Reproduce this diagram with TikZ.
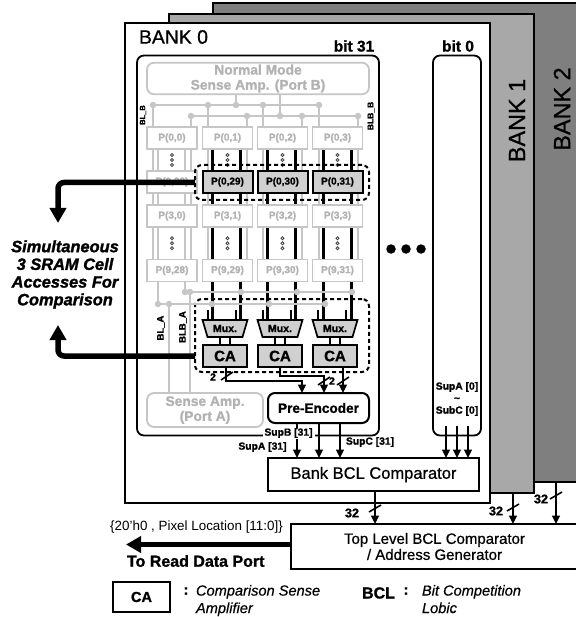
\documentclass[tikz,border=0pt]{standalone}
\usepackage{fontspec}
\setmainfont{Liberation Sans}[BoldFeatures={FakeBold=1.2},BoldItalicFeatures={FakeBold=1.6},ItalicFeatures={FakeBold=0.5}]
\newfontfamily\midfont{Liberation Sans}[FakeBold=0.7]
\usetikzlibrary{shapes.geometric,arrows.meta,positioning,backgrounds}

\definecolor{bankonegray}{HTML}{A8A8A8}
\definecolor{banktwogray}{HTML}{7F7F7F}
\definecolor{linegray}{HTML}{C6C6C6}
\definecolor{textgray}{HTML}{B2B2B2}
\definecolor{cellgray}{HTML}{D0D0D0}

\begin{document}
\begin{tikzpicture}[
		x=1pt, y=-1pt,
		every node/.style={inner sep=0pt, outer sep=0pt},
		bank/.style={rectangle, draw, line width=2pt},
		bitbox/.style={rectangle, draw, line width=1.8pt, rounded corners=7pt},
		ampbox/.style={rectangle, draw=linegray, line width=1.8pt, rounded corners=7pt, text=textgray, align=center, font=\fontsize{13.8}{15}\selectfont\bfseries},
		cell/.style={rectangle, draw=linegray, fill=white, line width=1.8pt, minimum width=50pt, minimum height=22pt, text=textgray, font=\fontsize{10}{12}\selectfont\bfseries},
		selcell/.style={cell, draw=black, fill=cellgray, line width=2pt, text=black},
		ca/.style={rectangle, draw, fill=cellgray, line width=2pt, minimum width=44pt, minimum height=22pt, font=\fontsize{15}{17}\selectfont\bfseries},
		mux/.style={trapezium, trapezium left angle=65, trapezium right angle=65, shape border rotate=180, trapezium stretches=true, draw, fill=cellgray, line width=1.7pt, minimum width=45pt, minimum height=17pt, font=\fontsize{10.5}{12}\selectfont\bfseries},
		selbox/.style={rectangle, draw, dash pattern=on 4pt off 3pt, line width=2pt, rounded corners=7pt},
		logic/.style={rectangle, draw, fill=white, line width=2pt, align=center},
		busdot/.style={circle, fill=linegray, minimum size=6.5pt},
		greyline/.style={draw=linegray, line width=2.4pt},
		blackline/.style={draw=black, line width=3pt},
		wire/.style={draw=black, line width=1.5pt},
		arrow/.style={-{Triangle[length=8.5pt,width=8pt]}, line width=1.6pt},
		bigarrow/.style={-{Triangle[length=15pt,width=16pt]}, line width=5.5pt, rounded corners=6pt},
		slash/.style={line width=1.6pt},
		tag/.style={font=\fontsize{10.3}{12}\selectfont\bfseries},
		bustag/.style={font=\fontsize{12.6}{14}\selectfont\bfseries},
		bitname/.style={rotate=90, font=\fontsize{9.5}{11}\selectfont\bfseries},
		cellover/.pic={\draw[line width=0.9pt, draw=black!70] (0,-5) circle (1.5) (0,0) circle (1.5) (0,5) circle (1.5);}
		]
		\useasboundingbox (0,0) rectangle (575,617);

		% Banks, back to front
		\begin{pgfonlayer}{background}
			\node[bank, fill=banktwogray, minimum width=365pt, minimum height=479pt] (banktwo) at (395.5,242.5) {};
			\node[bank, fill=bankonegray, minimum width=365pt, minimum height=479pt] (bankone) at (351.5,253.5) {};
			\node[bank, fill=white, minimum width=365pt, minimum height=479pt] (bankzero) at (307.5,263) {};
			\node[bitbox, fill=white, minimum width=242pt, minimum height=380pt] (bitlast) at (258,245.5) {};
			\node[bitbox, fill=white, minimum width=48pt, minimum height=380pt] (bitzero) at (457,245.5) {};
		\end{pgfonlayer}

		% Bank titles
		\node[anchor=west, font=\fontsize{19.4}{21}\selectfont\midfont] (bankzerotitle) at (139,37) {BANK 0};
		\node[rotate=90, font=\fontsize{23.4}{25}\selectfont\midfont] (bankonetitle) at (517,120.5) {BANK 1};
		\node[rotate=90, font=\fontsize{23.4}{25}\selectfont\midfont] (banktwotitle) at (562,109) {BANK 2};
		\node[font=\fontsize{15.5}{17}\selectfont\bfseries] (bitlasttitle) at (354,46) {bit 31};
		\node[font=\fontsize{15.5}{17}\selectfont\bfseries] (bitzerotitle) at (458,46) {bit 0};

		% Sense amplifiers
		\node[ampbox, minimum width=222pt, minimum height=31.5pt] (normalamp) at (258,78.5) {Normal Mode\\Sense Amp. (Port B)};
		\node[ampbox, minimum width=116pt, minimum height=34pt] (senseamp) at (205,410) {Sense Amp.\\(Port A)};

		% Row 0
		\node[cell] (pzz) at (172,138) {P(0,0)};
		\node[cell, right=5.5pt of pzz] (pzo) {P(0,1)};
		\node[cell, right=5pt of pzo] (pzt) {P(0,2)};
		\node[cell, right=5pt of pzt] (pzh) {P(0,3)};

		% Selected row
		\node[cell, below=22pt of pzz] (pazz) {P(0,28)};
		\node[selcell, below=22pt of pzo] (pazo) {P(0,29)};
		\node[selcell, below=22pt of pzt] (pazt) {P(0,30)};
		\node[selcell, below=22pt of pzh] (pazh) {P(0,31)};

		% Row 3
		\node[cell, below=12pt of pazz] (pczz) {P(3,0)};
		\node[cell, below=12pt of pazo] (pczo) {P(3,1)};
		\node[cell, below=12pt of pazt] (pczt) {P(3,2)};
		\node[cell, below=12pt of pazh] (pczh) {P(3,3)};

		% Row 9
		\node[cell, below=32.5pt of pczz] (pdzz) {P(9,28)};
		\node[cell, below=32.5pt of pczo] (pdzo) {P(9,29)};
		\node[cell, below=32.5pt of pczt] (pdzt) {P(9,30)};
		\node[cell, below=32.5pt of pczh] (pdzh) {P(9,31)};

		% Small dots between the rows
		\path (pzz) -- pic {cellover} (pazz);
		\path (pzo) -- pic {cellover} (pazo);
		\path (pzt) -- pic {cellover} (pazt);
		\path (pzh) -- pic {cellover} (pazh);
		\path (pczz) -- pic {cellover} (pdzz);
		\path (pczo) -- pic {cellover} (pdzo);
		\path (pczt) -- pic {cellover} (pdzt);
		\path (pczh) -- pic {cellover} (pdzh);

		% Comparison amplifiers and muxes
		\node[ca] (caone) at (225,356) {CA};
		\node[ca, right=11pt of caone] (catwo) {CA};
		\node[ca, right=11pt of catwo] (cathree) {CA};
		\node[mux, above=8pt of caone] (muxone) {Mux.};
		\node[mux, above=8pt of catwo] (muxtwo) {Mux.};
		\node[mux, above=8pt of cathree] (muxthree) {Mux.};

		% Selection boxes
		\node[selbox, minimum width=174pt, minimum height=35pt] (selcells) at (282,182.5) {};
		\node[selbox, minimum width=174pt, minimum height=73pt] (selamps) at (282,335.5) {};

		% Logic blocks
		\node[logic, rounded corners=7pt, minimum width=101pt, minimum height=30pt, font=\fontsize{13.6}{15}\selectfont\bfseries] (preenc) at (318.5,408) {Pre-Encoder};
		\node[logic, minimum width=211pt, minimum height=33pt, font=\fontsize{16.5}{18}\selectfont\midfont] (bankbcl) at (373.5,474.5) {Bank BCL Comparator};
		\node[logic, minimum width=287pt, minimum height=45pt, font=\fontsize{15}{16}\selectfont\midfont] (toplevel) at (434.5,546.5) {Top Level BCL Comparator\\/ Address Generator};

		% Bus dots at the top
		\node[busdot] (bla) at (153,105) {};
		\node[busdot] (blb) at (208,105) {};
		\node[busdot] (blc) at (236,105) {};
		\node[busdot] (bld) at (263,105) {};
		\node[busdot] (ble) at (319,105) {};
		\node[busdot] (bba) at (191,116) {};
		\node[busdot] (bbb) at (247,116) {};
		\node[busdot] (bbc) at (280,116) {};
		\node[busdot] (bbd) at (302,116) {};
		\node[busdot] (bbe) at (358,116) {};

		% Bus dots at the bottom
		\node[busdot] (lba) at (185,292) {};
		\node[busdot] (lbb) at (190,292) {};
		\node[busdot] (lbc) at (241,292) {};
		\node[busdot] (lbd) at (297,292) {};
		\node[busdot] (lbe) at (352,292) {};
		\node[busdot] (ala) at (158,304) {};
		\node[busdot] (alb) at (169,304) {};
		\node[busdot] (alc) at (212,304) {};
		\node[busdot] (ald) at (269,304) {};
		\node[busdot] (ale) at (325,304) {};

		% Grey bit lines
		\begin{pgfonlayer}{background}
			\draw[greyline] (bla.center) -- (bla.center |- pdzz.north);
			\draw[greyline] (bba.center) -- (bba.center |- pdzz.north);
			\draw[greyline] (bbb.center) -- (bbb.center |- pdzo.north);
			\draw[greyline] (blb.center) -- (blb.center |- pdzo.north);
			\draw[greyline] (bld.center) -- (bld.center |- pdzt.north);
			\draw[greyline] (bbd.center) -- (bbd.center |- pdzt.north);
			\draw[greyline] (ble.center) -- (ble.center |- pdzh.north);
			\draw[greyline] (bbe.center) -- (bbe.center |- pdzh.north);
			\draw[greyline] (ala.center |- pzz.south) -- (ala.center);
			\draw[greyline] (lba.center |- pzz.south) -- (lba.center);
			\draw[greyline] (blc.center) -- (blc.center |- normalamp.south);
			\draw[greyline] (bbc.center) -- (bbc.center |- normalamp.south);
			\draw[greyline] (alb.center) -- (alb.center |- senseamp.north);
			\draw[greyline] (lbb.center) -- (lbb.center |- senseamp.north);

			% Black bit lines
			\draw[blackline] ([xshift=-15pt]pzo.south) -- ([xshift=-15pt]pzo.south |- muxone.north);
			\draw[blackline] ([xshift=13pt]pzo.south) -- ([xshift=13pt]pzo.south |- muxone.north);
			\draw[blackline] ([xshift=-15pt]pzt.south) -- ([xshift=-15pt]pzt.south |- muxtwo.north);
			\draw[blackline] ([xshift=13pt]pzt.south) -- ([xshift=13pt]pzt.south |- muxtwo.north);
			\draw[blackline] ([xshift=-14.5pt]pzh.south) -- ([xshift=-14.5pt]pzh.south |- muxthree.north);
			\draw[blackline] ([xshift=13.5pt]pzh.south) -- ([xshift=13.5pt]pzh.south |- muxthree.north);
		\end{pgfonlayer}

		% Grey buses
		\draw[greyline] (bla) -- (ble);
		\draw[greyline] (bba) -- (bbe);
		\draw[greyline] (lba) -- (lbe);
		\draw[greyline] (ala) -- (ale);

		% Mux inputs and outputs
		\draw[wire] ([xshift=-17pt]muxone.north) -- ++(0,-10);
		\draw[wire] ([xshift=11pt]muxone.north) -- ++(0,-10);
		\draw[wire] ([xshift=-17pt]muxtwo.north) -- ++(0,-10);
		\draw[wire] ([xshift=11pt]muxtwo.north) -- ++(0,-10);
		\draw[wire] ([xshift=-17pt]muxthree.north) -- ++(0,-10);
		\draw[wire] ([xshift=11pt]muxthree.north) -- ++(0,-10);
		\draw[wire] ([xshift=-5pt]muxone.south) -- ([xshift=-5pt]muxone.south |- caone.north);
		\draw[wire] ([xshift=5pt]muxone.south) -- ([xshift=5pt]muxone.south |- caone.north);
		\draw[wire] ([xshift=-5pt]muxtwo.south) -- ([xshift=-5pt]muxtwo.south |- catwo.north);
		\draw[wire] ([xshift=5pt]muxtwo.south) -- ([xshift=5pt]muxtwo.south |- catwo.north);
		\draw[wire] ([xshift=-5pt]muxthree.south) -- ([xshift=-5pt]muxthree.south |- cathree.north);
		\draw[wire] ([xshift=5pt]muxthree.south) -- ([xshift=5pt]muxthree.south |- cathree.north);

		% Arrows from CA to the encoder
		\draw[arrow] ([xshift=1pt]caone.south) -- ++(0,14) -| ([xshift=-16.5pt]preenc.north);
		\draw[arrow] (catwo.south) -- ++(0,9) -| ([xshift=5.5pt]preenc.north);
		\draw[arrow] ([xshift=8pt]cathree.south) -- ([xshift=8pt]cathree.south |- preenc.north);
		\draw[slash] (221,380) -- (233,372);
		\draw[slash] (318,385) -- (330,377);
		\draw[slash] (337,385) -- (349,377);
		\node[tag] (twoone) at (213,377) {2};
		\node[tag] (twotwo) at (332,381) {2};

		% Arrows from the encoder to the comparator
		\draw[arrow] ([xshift=-21.5pt]preenc.south) -- ([xshift=-21.5pt]preenc.south |- bankbcl.north);
		\draw[arrow] ([xshift=0.5pt]preenc.south) -- ([xshift=0.5pt]preenc.south |- bankbcl.north);
		\draw[arrow] ([xshift=21.5pt]preenc.south) -- ([xshift=21.5pt]preenc.south |- bankbcl.north);
		\node[tag, fill=white, minimum height=11pt, minimum width=52pt] (supb) at (288.5,433) {SupB [31]};
		\node[tag] (supa) at (262.5,447) {SupA [31]};
		\node[tag, anchor=west] (supc) at (346,442) {SupC [31]};

		% Arrows from bit 0 to the comparator
		\node[tag, align=center] (supzero) at (457,399) {SupA [0]\\\textasciitilde\\SubC [0]};
		\draw[arrow] ([xshift=-11pt,yshift=10pt]bitzero.south) -- ([xshift=-11pt]bitzero.south |- bankbcl.north);
		\draw[arrow] ([yshift=10pt]bitzero.south) -- (bitzero.south |- bankbcl.north);
		\draw[arrow] ([xshift=11pt,yshift=10pt]bitzero.south) -- ([xshift=11pt]bitzero.south |- bankbcl.north);

		% Arrows to the top level
		\draw[arrow] ([xshift=1.5pt]bankbcl.south) -- ([xshift=1.5pt]bankbcl.south |- toplevel.north);
		\draw[arrow] ([xshift=161.5pt]bankone.south) -- ([xshift=161.5pt]bankone.south |- toplevel.north);
		\draw[arrow] ([xshift=160.5pt]banktwo.south) -- ([xshift=160.5pt]banktwo.south |- toplevel.north);
		\draw[slash] (369,512) -- (381,505);
		\draw[slash] (507,511) -- (519,504);
		\draw[slash] (550,499) -- (562,492);
		\node[bustag] (busone) at (352,513) {32};
		\node[bustag] (bustwo) at (496,511) {32};
		\node[bustag] (busthree) at (541,499) {32};

		% Bit line names
		\node[bitname, font=\fontsize{7.5}{9}\selectfont\bfseries] (blbname) at (143,115) {BL\_B};
		\node[bitname, font=\fontsize{8.5}{10}\selectfont\bfseries] (blbbname) at (371,116) {BLB\_B};
		\node[bitname] (blaname) at (161,328) {BL\_A};
		\node[bitname] (blbaname) at (183,327) {BLB\_A};

		% Row of large dots
		\node[circle, fill=black, minimum size=9.5pt] (dotone) at (391,249) {};
		\node[circle, fill=black, minimum size=9.5pt, right=5.5pt of dotone] (dottwo) {};
		\node[circle, fill=black, minimum size=9.5pt, right=5.5pt of dottwo] (dotthree) {};

		% Thick arrows
		\coordinate (tipcells) at (58,223);
		\coordinate (tipamps) at (58,325);
		\coordinate (tipread) at (126,544.5);
		\draw[bigarrow] (selcells.west) -| (tipcells);
		\draw[bigarrow] (selamps.west |- caone.west) -| (tipamps);
		\draw[bigarrow, rounded corners=0pt] (toplevel.west |- tipread) -- (tipread);

		% Texts on the left
		\node[align=center, font=\fontsize{16.4}{17.7}\selectfont\bfseries\itshape] (accesstext) at (65,274.5) {Simultaneous\\3 SRAM Cell\\Accesses For\\Comparison};
		\node[font=\fontsize{13.4}{15}\selectfont] (locationtext) at (196.5,527) {\{20'h0 , Pixel Location [11:0]\}};
		\node[anchor=west, font=\fontsize{16}{18}\selectfont\bfseries] (readtext) at (127,561) {To Read Data Port};

		% Legend
		\node[rectangle, draw, line width=2pt, minimum width=57pt, minimum height=30pt, font=\fontsize{14.5}{16}\selectfont\bfseries] (legendca) at (141.5,597) {CA};
		\node[font=\fontsize{14.5}{16}\selectfont\bfseries] (legendcolon) at (186,591) {:};
		\node[anchor=north west, align=left, font=\fontsize{14.6}{17.5}\selectfont\itshape] (legendcatext) at (196,585) {Comparison Sense\\Amplifier};
		\node[font=\fontsize{16}{18}\selectfont\bfseries] (legendbcl) at (378.5,593) {BCL};
		\node[font=\fontsize{14.5}{16}\selectfont\bfseries] (legendcolontwo) at (406,591) {:};
		\node[anchor=north west, align=left, font=\fontsize{14.6}{17.5}\selectfont\itshape] (legendbcltext) at (422,585) {Bit Competition\\Lobic};

	\end{tikzpicture}
\end{document}
